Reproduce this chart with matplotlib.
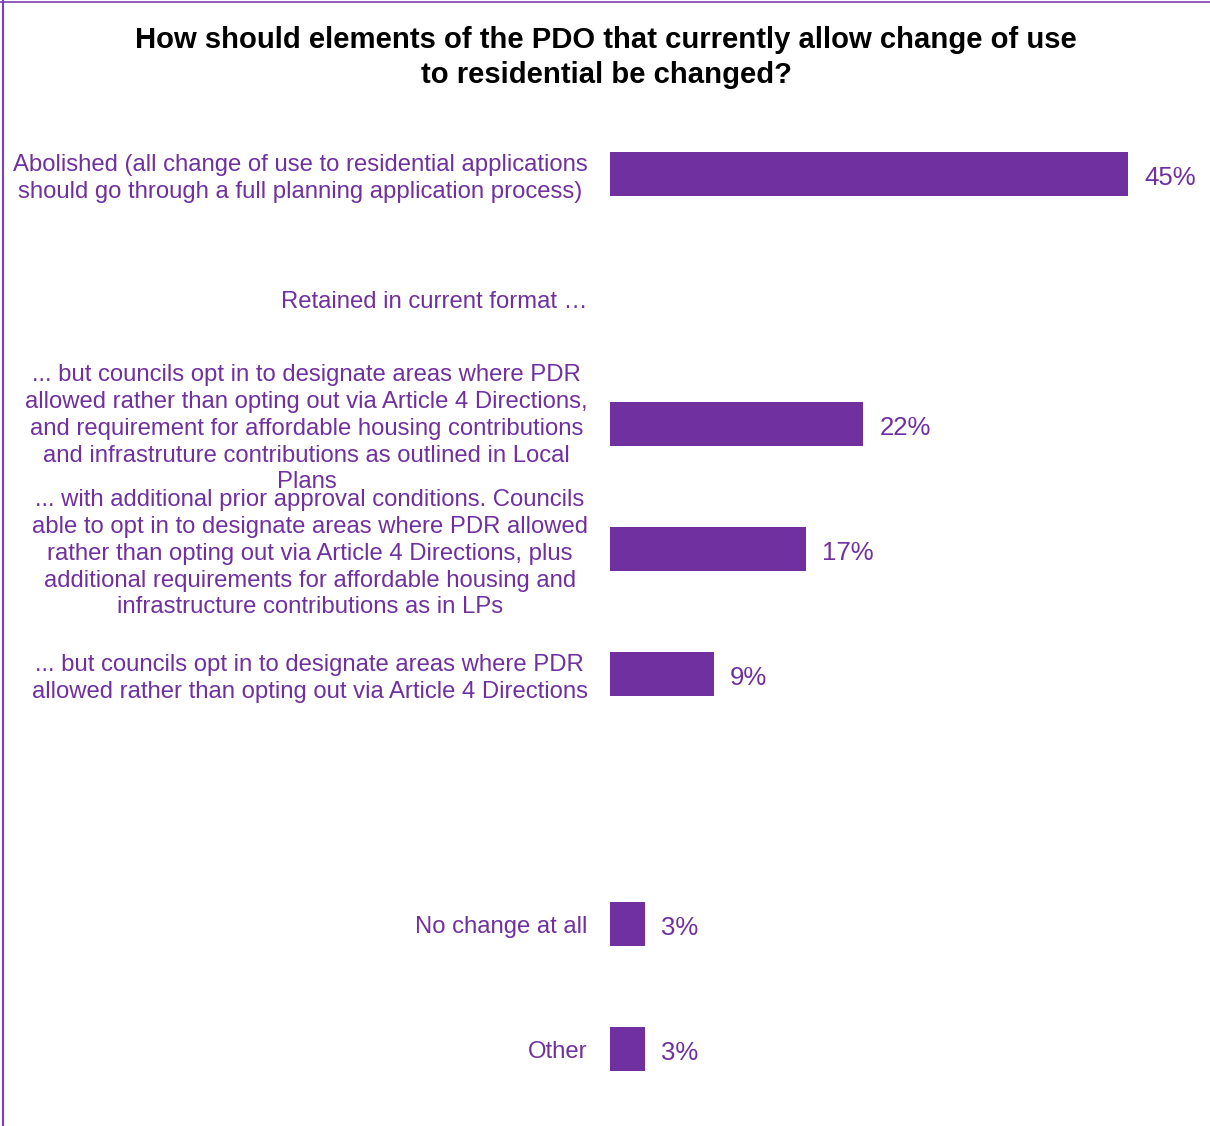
import matplotlib.pyplot as plt
import numpy as np

plt.rcParams['font.family'] = ['Liberation Sans', 'DejaVu Sans']

PURPLE = '#7030A0'

categories = [
    'Abolished (all change of use to residential applications\nshould go through a full planning application process)',
    'Retained in current format \u2026',
    '... but councils opt in to designate areas where PDR\nallowed rather than opting out via Article 4 Directions,\n'
    'and requirement for affordable housing contributions\nand infrastruture contributions as outlined in Local\nPlans',
    '... with additional prior approval conditions. Councils\nable to opt in to designate areas where PDR allowed\n'
    'rather than opting out via Article 4 Directions, plus\nadditional requirements for affordable housing and\n'
    'infrastructure contributions as in LPs',
    '... but councils opt in to designate areas where PDR\nallowed rather than opting out via Article 4 Directions',
    '',
    'No change at all',
    'Other',
]
values = [45, None, 22, 17, 9, None, 3, 3]

fig = plt.figure(figsize=(12.10, 11.26), dpi=100)
ax = fig.add_axes([610 / 1210, 1 - 1111.5 / 1126, 518 / 1210, 1000 / 1126])

y = np.arange(len(categories))
for yi, v in zip(y, values):
    if v is None:
        continue
    ax.barh(yi, v, height=0.35, color=PURPLE)
    ax.text(v + 1.4, yi + 0.03, f'{v}%', va='center', ha='left', fontsize=18.5,
            color=PURPLE, clip_on=False)

ax.set_xlim(0, 45)
ax.set_ylim(len(categories) - 0.5, -0.5)
ax.set_yticks(y)
ax.set_yticklabels(categories, fontsize=17.2, color=PURPLE,
                   multialignment='center', linespacing=1.28)
ax.tick_params(axis='y', length=0, pad=16)
ax.set_xticks([])
for s in ax.spines.values():
    s.set_visible(False)

fig.text(0.501, 1 - 57.5 / 1126,
         'How should elements of the PDO that currently allow change of use\nto residential be changed?',
         ha='center', va='center', fontsize=21.1, fontweight='bold', linespacing=1.3)

# frame lines at left and top
fig.add_artist(plt.Line2D([2.5 / 1210, 2.5 / 1210], [0, 1], color='#7B3FB8', lw=1.5))
fig.add_artist(plt.Line2D([0, 1], [1 - 2 / 1126, 1 - 2 / 1126], color='#7B3FB8', lw=1.2))

fig.savefig('out.png', dpi=100)
